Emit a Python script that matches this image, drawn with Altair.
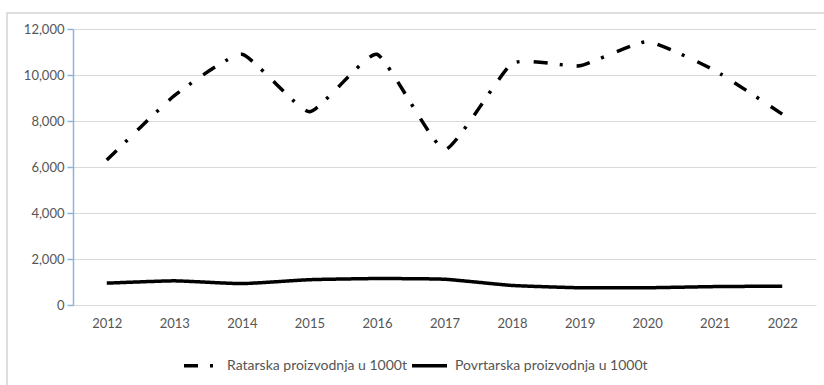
import altair as alt
import pandas as pd

# Production volumes (thousand tonnes) by year
years = ["2012", "2013", "2014", "2015", "2016", "2017", "2018", "2019", "2020", "2021", "2022"]
ratarska = [6300, 9100, 10900, 8400, 10900, 6750, 10500, 10400, 11450, 10200, 8300]
povrtarska = [950, 1050, 930, 1100, 1150, 1120, 850, 750, 750, 800, 820]
series_names = ["Ratarska proizvodnja u 1000t", "Povrtarska proizvodnja u 1000t"]
y_ticks = [0, 2000, 4000, 6000, 8000, 10000, 12000]

df = pd.DataFrame({
    "godina": years * 2,
    "vrijednost": ratarska + povrtarska,
    "serija": [series_names[0]] * len(years) + [series_names[1]] * len(years),
})

GREY_TEXT = "#555555"
GRID = "#d9d9d9"
AXIS_BLUE = "#8fb4d8"

# light outer frame around the whole figure
frame = alt.Chart(pd.DataFrame({"k": [0]})).mark_rect(
    fill="transparent", stroke="#d4d4d4", strokeWidth=1.5
).encode(
    x=alt.value(-66), x2=alt.value(800), y=alt.value(-16), y2=alt.value(400)
)

lines = alt.Chart(df).mark_line(
    interpolate="cardinal", tension=0.55, color="black", strokeCap="butt",
    strokeJoin="round"
).encode(
    x=alt.X(
        "godina:N",
        sort=years,
        scale=alt.Scale(type="point", padding=0.5),
        axis=alt.Axis(
            title=None, domain=False, ticks=False, grid=False, labelAngle=0,
            labelPadding=12, labelColor=GREY_TEXT, labelFontSize=13,
        ),
    ),
    y=alt.Y(
        "vrijednost:Q",
        scale=alt.Scale(domain=[0, 12000], nice=False),
        axis=alt.Axis(
            title=None, values=y_ticks, format=",.0f", grid=True, gridColor=GRID,
            gridWidth=1.2, domainColor=AXIS_BLUE, domainWidth=1.5,
            tickColor=AXIS_BLUE, tickWidth=1.5, tickSize=6, labelPadding=3,
            labelColor=GREY_TEXT, labelFontSize=13,
        ),
    ),
    strokeDash=alt.StrokeDash(
        "serija:N",
        scale=alt.Scale(domain=series_names, range=[[14, 12, 3, 14], [1, 0]]),
        legend=alt.Legend(
            title=None, orient="none", legendX=109, legendY=317,
            direction="horizontal", symbolType="stroke", symbolSize=1225,
            symbolStrokeWidth=3.5, symbolStrokeColor="black",
            labelFontSize=14, labelColor=GREY_TEXT, labelOffset=6,
            labelLimit=400, columnPadding=-2,
        ),
    ),
    strokeWidth=alt.StrokeWidth(
        "serija:N",
        scale=alt.Scale(domain=series_names, range=[3.5, 3.5]),
        legend=None,
    ),
)

chart = alt.layer(frame, lines).properties(
    width=743,
    height=276,
    autosize=alt.AutoSizeParams(type="none"),
    padding={"left": 73, "top": 29, "right": 8, "bottom": 80},
).configure(font="Lato").configure_view(stroke=None)

chart.save("out.html", embed_options={"renderer": "svg", "actions": False})
